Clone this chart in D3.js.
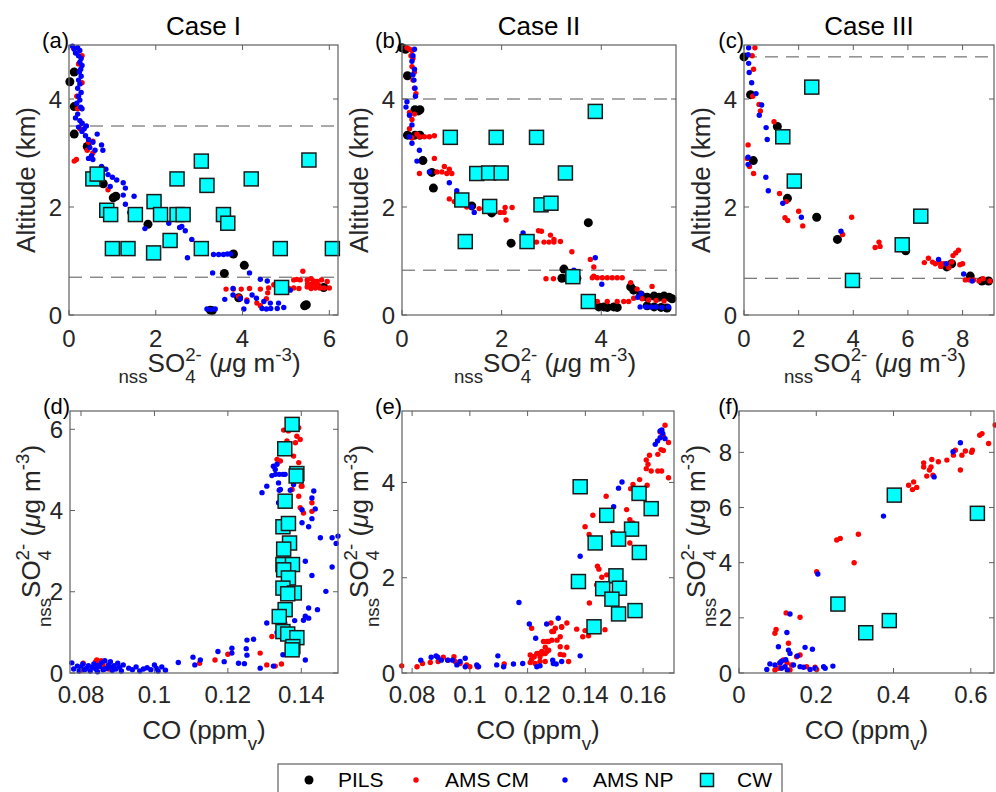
<!DOCTYPE html>
<html>
<head>
<meta charset="utf-8">
<script src="https://cdn.jsdelivr.net/npm/d3@7"></script>
<style>
  body { margin: 0; background: #fff; }
  svg { font-family: "Liberation Sans", Arial, Helvetica, sans-serif; }
</style>
</head>
<body>
<div id="chart"></div>
<script>
// ---- data ----
var pilsA = [[0.12,4.5],[0.02,4.32],[0.12,3.86],[0.12,3.35],[0.42,3.12],[0.79,2.43],[1.02,2.17],[1.08,2.2],[1.82,1.68],[3.79,1.13],[4.04,0.92],[3.58,0.77],[3.91,0.32],[3.26,0.09],[3.3,0.08],[5.43,0.17],[5.47,0.19],[5.87,0.51]];
var cmA = [[0.1,4.95],[0.3,4.8],[0.22,4.65],[0.3,4.3],[0.18,4.05],[0.2,3.82],[0.3,3.55],[0.25,3.45],[0.45,3.2],[0.55,3.22],[0.42,3.05],[0.55,3.0],[0.12,2.85],[0.17,2.88],[0.9,2.32],
  [5.39,0.81],[5.18,0.65],[5.25,0.66],[5.33,0.65],[5.49,0.65],[5.58,0.67],[5.64,0.63],[5.72,0.62],[5.82,0.65],[5.95,0.62],[5.07,0.49],[5.18,0.5],[5.3,0.49],[5.49,0.52],[5.58,0.49],[5.68,0.5],[5.78,0.5],[5.88,0.5],[6.0,0.5],[5.5,0.58],[5.6,0.57],[5.7,0.58],[5.75,0.55],
  [3.62,0.48],[3.79,0.48],[3.97,0.48],[4.16,0.49],[4.41,0.48],[4.6,0.5],[4.58,0.41],[3.91,0.34],[4.1,0.28],[4.33,0.22],[4.41,0.17],[4.72,0.56],[4.95,0.48],[4.55,0.3]];
var npA = [[0.08,4.98],[0.12,4.92],[0.2,4.95],[0.25,4.9],[0.15,4.85],[0.22,4.8],[0.28,4.75],[0.25,4.68],[0.3,4.62],[0.27,4.55],[0.24,4.5],[0.28,4.42],[0.22,4.35],[0.25,4.28],[0.2,4.2],[0.28,4.12],[0.22,4.05],[0.25,3.98],[0.18,3.92],[0.27,3.85],[0.3,3.82],[0.2,3.72],[0.15,3.65],[0.25,3.6],[0.3,3.55],[0.22,3.48],[0.35,3.45],[0.4,3.5],[0.3,3.4],[0.38,3.32],[0.45,3.25],[0.65,3.35],[0.55,3.2],[0.48,3.1],[0.6,3.05],[0.75,3.15],[0.78,3.05],[0.52,2.95],[0.45,2.9],[0.55,2.88],[0.75,2.75],[0.85,2.7],[0.9,2.6],[1.0,2.55],[1.1,2.5],[0.95,2.38],[1.25,2.45],[1.3,2.35],[1.25,2.22],[1.5,2.2],[1.3,2.05],[1.4,1.9],[1.55,1.8],[1.75,1.6],[2.0,1.85],[2.3,1.7],[2.55,1.62],[2.6,1.64],[2.68,1.56],[2.83,1.4],[2.73,1.06],[2.95,1.3],[3.1,1.2],[3.33,1.12],[3.45,1.12],[3.56,1.12],[3.65,1.13],[3.72,1.13],[3.31,0.78],[4.16,0.78],[4.41,0.66],[4.57,0.63],[4.9,0.45],[5.1,0.46],
  [3.78,0.49],[3.59,0.29],[3.78,0.37],[4.22,0.37],[4.32,0.31],[4.49,0.25],[4.64,0.22],[4.83,0.22],[4.95,0.14],[4.03,0.11],[3.18,0.11],[3.27,0.1],[3.37,0.11],[4.45,0.12],[4.55,0.11],[4.65,0.12],[4.8,0.12],[3.95,0.3],[4.1,0.25]];
var cwA = [[0.55,2.52],[0.65,2.61],[0.87,1.94],[0.96,1.86],[1.0,1.23],[1.36,1.23],[1.53,1.86],[1.96,2.1],[2.11,1.86],[1.95,1.15],[2.33,1.38],[2.49,2.52],[2.49,1.86],[2.63,1.86],[3.05,2.85],[3.18,2.4],[3.05,1.23],[3.56,1.86],[3.66,1.7],[4.2,2.52],[4.87,1.23],[4.9,0.51],[5.53,2.87],[6.07,1.23]];
var dashA = [3.5, 0.7];

var pilsB = [[0.0,4.95],[0.07,4.92],[0.11,4.43],[0.26,3.8],[0.33,3.78],[0.36,3.8],[0.11,3.33],[0.26,3.33],[0.36,3.33],[0.42,2.86],[0.6,2.64],[0.63,2.35],[1.4,2.02],[1.8,1.89],[2.19,1.33],[3.74,1.71],[3.25,0.85],[3.21,0.68],[3.31,0.68],[3.51,0.68],
  [3.95,0.15],[4.05,0.15],[4.12,0.14],[4.25,0.15],[4.32,0.14],[4.59,0.52],[4.65,0.46],[4.79,0.37],[4.92,0.33],[5.06,0.35],[5.16,0.33],[5.26,0.35],[5.36,0.33],[4.92,0.17],[5.06,0.15],[5.2,0.14],[5.32,0.13],[5.42,0.3]];
var cmB = [[0.1,4.95],[0.15,4.92],[0.2,4.9],[0.18,4.8],[0.22,4.75],[0.2,4.6],[0.25,4.5],[0.22,4.35],[0.25,4.2],[0.28,4.1],[0.15,3.75],[0.25,3.72],[0.2,3.62],[0.15,3.45],[0.3,3.35],[0.35,3.3],[0.45,3.3],[0.55,3.3],[0.65,3.32],[0.2,3.28],[0.65,2.9],[0.35,2.62],[0.7,2.65],[0.8,2.65],[0.9,2.62],[0.95,2.7],[0.85,2.75],[1.0,2.62],[0.95,2.15],[1.05,2.1],[1.3,2.0],[1.55,1.97],[1.85,1.97],[1.97,1.9],[2.07,1.99],[2.21,1.99],[2.09,1.76],[2.05,1.9],
  [2.8,1.55],[2.74,1.56],[2.98,1.48],[3.05,1.4],[3.18,1.36],[2.6,1.4],[2.7,1.35],[2.85,1.35],[2.95,1.35],[3.05,1.35],[3.41,1.17],[3.78,1.03],[3.85,0.89],[3.82,0.69],[3.92,0.69],[4.02,0.69],[4.12,0.69],[4.22,0.69],[4.32,0.69],[4.42,0.69],[2.89,0.67],[3.04,0.67],[3.85,0.72],[4.59,0.6],[4.72,0.48],[5.02,0.53],[4.82,0.3],[4.95,0.28],[5.1,0.27],[5.26,0.26],[3.92,0.25],[4.12,0.25],[4.32,0.25],[4.45,0.25],[4.55,0.25],[4.65,0.31]];
var npB = [[0.25,4.92],[0.22,4.8],[0.2,4.7],[0.25,4.55],[0.22,4.45],[0.24,4.35],[0.26,4.2],[0.27,4.05],[0.1,3.95],[0.08,3.85],[0.15,3.7],[0.2,3.52],[0.15,3.3],[0.2,3.18],[0.35,3.05],[0.3,2.85],[0.55,2.65],[0.95,2.45],[1.1,2.3],[1.45,1.9],[1.4,2.0],[2.43,1.52],[3.88,1.06],[4.01,0.57],[3.45,0.83],[4.73,0.33],[4.8,0.4],[4.78,0.15],[4.9,0.15],[5.0,0.15],[5.1,0.15],[5.22,0.14],[5.35,0.15]];
var cwB = [[3.88,3.77],[0.97,3.29],[1.89,3.29],[2.7,3.29],[1.5,2.62],[1.74,2.63],[1.99,2.63],[3.28,2.63],[1.2,2.13],[1.76,2.01],[2.79,2.04],[2.99,2.07],[1.27,1.36],[2.51,1.36],[3.43,0.71],[3.74,0.25]];
var dashB = [4.0, 0.83];

var pilsC = [[0.0,4.78],[0.24,4.08],[1.22,3.49],[0.34,2.86],[1.59,2.16],[2.66,1.81],[3.42,1.4],[5.92,1.19],[7.42,0.89],[7.6,0.95],[8.28,0.72],[8.71,0.63],[8.95,0.63]];
var cmC = [[0.4,4.95],[0.3,4.8],[0.35,4.55],[0.32,4.05],[0.55,3.9],[0.6,3.78],[1.1,3.58],[0.15,3.15],[0.12,2.9],[0.2,2.75],[0.35,2.62],[1.3,2.25],[1.55,2.1],[2.0,1.92],[1.5,1.8],[1.6,1.75],[2.15,1.65],[3.94,1.81],[3.61,1.49],[4.8,1.25],[4.94,1.35],[4.98,1.27],
  [6.6,0.97],[6.75,1.05],[6.9,0.98],[7.0,0.95],[7.15,0.97],[7.3,0.95],[7.45,0.93],[7.6,0.98],[7.75,1.15],[7.85,1.2],[7.65,1.1],[7.5,0.88],[8.0,0.95],[7.9,0.93],[8.1,0.65],[8.25,0.65],[8.4,0.65],[8.6,0.63],[8.75,0.67],[9.0,0.63],[7.2,0.9]];
var npC = [[0.17,4.95],[0.15,4.82],[0.17,4.66],[0.19,4.49],[0.28,4.3],[0.44,4.1],[0.65,3.89],[0.56,3.7],[0.81,3.47],[0.85,3.25],[0.15,2.92],[0.15,2.79],[0.8,2.55],[0.89,2.3],[1.42,2.07],[2.1,1.81],[3.55,1.55],[7.12,1.03],[8.04,0.76],[8.35,0.63],[7.4,0.95]];
var cwC = [[2.48,4.22],[1.42,3.3],[1.84,2.48],[6.47,1.83],[5.79,1.3],[3.97,0.64]];
var dashC = [4.78, 0.68];

var pilsD = [];
var cmD = [[0.1352,5.98],[0.1365,5.96],[0.1393,6.04],[0.1388,5.83],[0.1361,5.71],[0.1384,5.67],[0.1397,5.75],[0.1334,5.26],[0.1343,5.22],[0.1379,5.34],[0.1393,5.18],[0.1375,4.97],[0.1375,4.52],[0.1393,4.77],[0.1402,4.6],[0.1393,4.35],[0.1397,4.07],[0.1406,3.94],[0.1429,3.98],[0.1429,4.19],[0.14,4.6],
  [0.132,0.9],[0.1288,0.49],[0.1306,0.2],[0.1329,0.17],[0.1346,0.22],[0.12,0.46],[0.1165,0.32],[0.1123,0.24],[0.0843,0.32],[0.0806,0.24],[0.0802,0.07],[0.0847,0.2],[0.0855,0.3],[0.086,0.2],[0.0875,0.1],[0.084,0.28]];
var npD = [[0.0775,0.25],[0.078,0.1],[0.079,0.17],[0.0795,0.05],[0.08,0.15],[0.0805,0.22],[0.081,0.08],[0.0815,0.12],[0.082,0.18],[0.0825,0.05],[0.083,0.14],[0.0835,0.22],[0.084,0.1],[0.0845,0.03],[0.085,0.16],[0.0855,0.25],[0.086,0.08],[0.0865,0.3],[0.087,0.12],[0.0875,0.2],[0.088,0.28],[0.0885,0.06],[0.089,0.18],[0.0895,0.1],[0.09,0.24],[0.0905,0.14],[0.091,0.05],[0.0915,0.2],[0.093,0.12],[0.094,0.08],[0.095,0.15],[0.096,0.05],[0.097,0.1],[0.098,0.13],[0.099,0.08],[0.1,0.2],[0.1005,0.12],[0.101,0.05],[0.102,0.15],[0.103,0.07],[0.0845,0.18],[0.0865,0.1],[0.088,0.15],
  [0.1065,0.26],[0.1105,0.39],[0.111,0.2],[0.1125,0.32],[0.1173,0.53],[0.119,0.28],[0.1211,0.61],[0.1211,0.49],[0.1229,0.24],[0.1252,0.81],[0.127,0.83],[0.125,0.6],[0.1252,0.44],[0.1245,0.23],[0.1288,0.12],[0.1306,1.23],[0.1293,4.44],[0.1306,4.6],[0.132,4.86],[0.1329,5.01],[0.1324,5.09],[0.1338,4.68],[0.134,4.5],[0.1338,4.19],[0.1356,4.89],[0.137,4.5],[0.1379,4.64],[0.1334,5.14],[0.133,4.89],[0.134,4.89],[0.135,4.89],[0.1343,4.52],
  [0.1434,4.48],[0.1429,4.31],[0.1438,4.04],[0.1402,4.02],[0.1429,3.8],[0.1402,3.7],[0.142,3.6],[0.1452,3.33],[0.1484,3.33],[0.1495,3.19],[0.15,3.37],[0.1411,2.75],[0.1484,2.61],[0.1429,2.4],[0.1467,2.01],[0.142,1.6],[0.1444,1.56],[0.1411,1.4],[0.142,1.35],[0.1406,1.3],[0.1382,1.29],[0.1355,1.23],[0.1334,1.0],[0.1347,0.9],[0.1411,0.32],[0.1324,0.17],[0.135,0.45]];
var cwD = [[0.1375,6.12],[0.1355,5.52],[0.1388,4.91],[0.1386,4.85],[0.1356,4.23],[0.135,3.6],[0.1365,3.68],[0.1368,3.2],[0.1352,3.05],[0.135,2.67],[0.1376,2.67],[0.1352,2.54],[0.1365,2.34],[0.135,2.09],[0.1381,1.97],[0.1363,1.95],[0.1356,1.56],[0.134,1.39],[0.135,1.02],[0.1363,0.96],[0.1388,0.87],[0.1377,0.65],[0.1375,0.57]];

var pilsE = [];
var cmE = [[0.1676,5.2],[0.1659,5.06],[0.167,4.97],[0.1688,4.84],[0.1662,4.69],[0.167,4.67],[0.1651,4.59],[0.1622,4.57],[0.1611,4.47],[0.1617,4.38],[0.1611,4.29],[0.1628,4.24],[0.1651,4.24],[0.1664,4.24],[0.1688,4.1],[0.1614,3.94],[0.1588,4.06],[0.1565,3.96],[0.1557,3.87],[0.1472,3.71],[0.1543,3.43],[0.1554,3.22],[0.1565,3.15],[0.156,3.05],[0.1426,3.31],[0.1399,3.07],[0.1413,2.91],[0.1495,2.95],[0.1532,2.84],[0.1554,2.73],[0.1442,2.24],[0.1447,2.18],[0.1457,2.01],[0.1474,2.06],[0.1439,1.85],[0.1414,1.47],
  [0.137,0.92],[0.1399,0.89],[0.1411,0.78],[0.1391,0.76],[0.1468,0.91],[0.1336,1.05],[0.1318,0.96],[0.129,0.87],[0.1284,0.69],[0.1302,0.69],[0.1273,0.48],[0.1261,0.41],[0.1249,0.45],[0.1238,0.41],[0.122,0.34],[0.1214,0.29],[0.1243,0.24],[0.1313,0.55],[0.1336,0.54],[0.1313,0.39],[0.1325,0.38],[0.1342,0.24],[0.1267,0.66],
  [0.0764,0.15],[0.0817,0.13],[0.0836,0.2],[0.0863,0.22],[0.0908,0.33],[0.0925,0.27],[0.0945,0.34],[0.0949,0.24],[0.0966,0.2],[0.0989,0.17],[0.1,0.13],[0.1026,0.13],[0.089,0.24],[0.1119,0.19],[0.1214,0.94],[0.1209,0.38],[0.1223,0.34],[0.1232,0.41],[0.1243,0.34],[0.1255,0.41],[0.1267,0.45],[0.1261,0.54],[0.1273,0.66],[0.1255,0.66],[0.1284,0.87],[0.1281,1.05],[0.1296,0.94],[0.1313,0.76],[0.1318,0.97],[0.1209,0.22],[0.1226,0.2],[0.1261,0.24]];
var npE = [[0.083,0.27],[0.0866,0.33],[0.0883,0.36],[0.0889,0.33],[0.0901,0.27],[0.0923,0.27],[0.094,0.27],[0.0955,0.17],[0.0966,0.24],[0.0984,0.31],[0.0984,0.13],[0.1024,0.17],[0.103,0.13],[0.1093,0.17],[0.1097,0.36],[0.1117,0.13],[0.1151,0.19],[0.1183,0.2],[0.117,1.48],[0.1206,1.03],[0.1228,0.73],[0.1266,1.03],[0.1306,1.15],[0.1287,0.27],[0.1289,0.2],[0.1299,0.19],[0.1318,0.24],[0.1232,0.13],[0.1243,0.15],[0.1382,0.36],[0.1382,2.45],
  [0.1498,3.49],[0.1515,3.88],[0.1527,4.01],[0.1642,4.8],[0.165,4.87],[0.1659,4.94],[0.1668,5.03],[0.1665,5.1],[0.1676,4.92],[0.1659,5.08]];
var cwE = [[0.1382,3.91],[0.1586,3.77],[0.1628,3.45],[0.1474,3.31],[0.156,3.02],[0.1515,2.81],[0.1434,2.73],[0.1587,2.53],[0.1376,1.92],[0.1506,2.04],[0.146,1.77],[0.1518,1.78],[0.1492,1.55],[0.1515,1.24],[0.1572,1.31],[0.143,0.97]];

var pilsF = [];
var cmF = [[0.663,8.99],[0.629,8.68],[0.623,8.62],[0.646,8.32],[0.604,8.08],[0.602,8.0],[0.586,8.05],[0.577,7.9],[0.573,7.36],[0.555,7.9],[0.56,8.08],[0.538,7.72],[0.516,7.66],[0.499,7.74],[0.497,7.47],[0.493,7.36],[0.486,7.14],[0.502,7.17],[0.478,7.62],[0.478,7.47],[0.439,6.81],[0.449,6.65],[0.46,6.73],[0.452,6.93],
  [0.309,5.03],[0.262,4.88],[0.253,4.82],[0.298,4.0],[0.201,3.67],[0.158,2.02],[0.122,2.18],[0.096,1.58],[0.093,1.44],[0.128,1.08],[0.158,0.65],[0.149,0.59],[0.115,0.47],[0.124,0.37],[0.106,0.35],[0.102,0.17],[0.093,0.11],[0.136,0.29],[0.175,0.23],[0.197,0.21],[0.201,0.13],[0.132,0.11]];
var npF = [[0.573,8.35],[0.554,8.02],[0.505,7.11],[0.374,5.69],[0.204,3.59],[0.132,2.14],[0.124,1.47],[0.102,0.95],[0.128,0.83],[0.132,0.71],[0.171,0.93],[0.19,0.86],[0.151,0.62],[0.072,0.13],[0.08,0.33],[0.093,0.29],[0.106,0.37],[0.11,0.17],[0.119,0.23],[0.125,0.11],[0.11,0.43],[0.141,0.29],[0.158,0.23],[0.167,0.21],[0.184,0.13],[0.197,0.17],[0.219,0.23],[0.223,0.17],[0.243,0.25],[0.121,0.48]];
var cwF = [[0.402,6.45],[0.617,5.79],[0.256,2.5],[0.389,1.9],[0.328,1.46]];

var caseTitles = ["Case I", "Case II", "Case III"];
var panelLetters = ["(a)", "(b)", "(c)", "(d)", "(e)", "(f)"];
var legendNames = ["PILS", "AMS CM", "AMS NP", "CW"];

// ---- layout ----
var W = 996, H = 792;
var svg = d3.select("#chart").append("svg").attr("width", W).attr("height", H);

var panels = [
  {L:69,  R:338, T:45,  B:315, xd:[0,6.2],  yd:[0,5],  xt:[0,2,4,6],   yt:[0,2,4], pils:pilsA, cm:cmA, np:npA, cw:cwA, dash:dashA, row:0, ylOff:34},
  {L:402, R:676, T:45,  B:315, xd:[0,5.5],  yd:[0,5],  xt:[0,2,4],     yt:[0,2,4], pils:pilsB, cm:cmB, np:npB, cw:cwB, dash:dashB, row:0, ylOff:34},
  {L:744, R:994, T:45,  B:315, xd:[0,9.15], yd:[0,5],  xt:[0,2,4,6,8], yt:[0,2,4], pils:pilsC, cm:cmC, np:npC, cw:cwC, dash:dashC, row:0, ylOff:34},
  {L:70,  R:338, T:411, B:673, xd:[0.077,0.150],  yd:[0,6.45], xt:[0.08,0.1,0.12,0.14], yt:[0,2,4,6], pils:pilsD, cm:cmD, np:npD, cw:cwD, dash:[], row:1, ylOff:30},
  {L:402, R:674, T:411, B:673, xd:[0.0765,0.1707], yd:[0,5.5], xt:[0.08,0.1,0.12,0.14,0.16], yt:[0,2,4], pils:pilsE, cm:cmE, np:npE, cw:cwE, dash:[], row:1, ylOff:34},
  {L:739, R:994, T:411, B:673, xd:[0,0.66], yd:[0,9.5], xt:[0,0.2,0.4,0.6], yt:[0,2,4,6,8], pils:pilsF, cm:cmF, np:npF, cw:cwF, dash:[], row:1, ylOff:34}
];

var axisCol = "#5f5f5f", textCol = "#262626";
var tickFmt = function(v){ return String(+v.toFixed(3)); };
var sq = 14;

// lay out a label built from pieces (sub/superscripts), centred on 0 (+ shift)
function richLabel(g, pieces, fs, shift) {
  var x = 0, stackStart = null, stackW = 0;
  var inner = g.append("g");
  pieces.forEach(function(p) {
    var t = inner.append("text")
      .attr("x", x).attr("y", (p.dy || 0) * fs)
      .attr("font-size", (p.s || 1) * fs)
      .attr("fill", textCol)
      .style("font-style", p.it ? "italic" : null)
      .style("white-space", "pre")
      .text(p.t);
    var w = t.node().getComputedTextLength();
    if (p.stack) { stackStart = x; stackW = w; }
    else if (stackStart !== null) {
      t.attr("x", stackStart);
      x = stackStart + Math.max(w, stackW);
      stackStart = null;
    } else x += w;
  });
  inner.attr("transform", "translate(" + (-x / 2 + (shift || 0)) + ",0)");
}

var so4Pieces = [
  {t:"nss", s:0.72, dy:0.42}, {t:"SO"}, {t:"2-", s:0.72, dy:-0.42, stack:true}, {t:"4", s:0.72, dy:0.42},
  {t:" ("}, {t:"\u03bc", it:true}, {t:"g m"}, {t:"-3", s:0.72, dy:-0.42}, {t:")"}
];
var altPieces = [{t:"Altitude (km)"}];
var coPieces = [{t:"CO (ppm"}, {t:"v", s:0.72, dy:0.42}, {t:")"}];

panels.forEach(function(p, i) {
  var x = d3.scaleLinear().domain(p.xd).range([p.L, p.R]);
  var y = d3.scaleLinear().domain(p.yd).range([p.B, p.T]);
  var g = svg.append("g");

  var cid = "clip" + i;
  svg.append("clipPath").attr("id", cid).append("rect")
    .attr("x", p.L - 8).attr("y", p.T - 8).attr("width", p.R - p.L + 16).attr("height", p.B - p.T + 16);
  var marks = g.append("g").attr("clip-path", "url(#" + cid + ")");

  // dashed reference lines
  marks.selectAll(".dash").data(p.dash).enter().append("line")
    .attr("x1", p.L).attr("x2", p.R)
    .attr("y1", function(d){ return y(d); }).attr("y2", function(d){ return y(d); })
    .attr("stroke", "#555").attr("stroke-width", 1).attr("stroke-dasharray", "13,8");

  marks.selectAll(".pils").data(p.pils).enter().append("circle")
    .attr("cx", function(d){ return x(d[0]); }).attr("cy", function(d){ return y(d[1]); })
    .attr("r", 4.5).attr("fill", "#000");
  marks.selectAll(".cm").data(p.cm).enter().append("circle")
    .attr("cx", function(d){ return x(d[0]); }).attr("cy", function(d){ return y(d[1]); })
    .attr("r", 2.7).attr("fill", "#ff0000");
  marks.selectAll(".np").data(p.np).enter().append("circle")
    .attr("cx", function(d){ return x(d[0]); }).attr("cy", function(d){ return y(d[1]); })
    .attr("r", 2.7).attr("fill", "#0000ff");
  marks.selectAll(".cw").data(p.cw).enter().append("rect")
    .attr("x", function(d){ return x(d[0]) - sq / 2; }).attr("y", function(d){ return y(d[1]) - sq / 2; })
    .attr("width", sq).attr("height", sq)
    .attr("fill", "#00ffff").attr("stroke", "#1a1a1a").attr("stroke-width", 1.5);

  // box
  g.append("rect").attr("x", p.L).attr("y", p.T).attr("width", p.R - p.L).attr("height", p.B - p.T)
    .attr("fill", "none").attr("stroke", axisCol).attr("stroke-width", 1.2);

  // ticks (inward, mirrored)
  var tl = 5;
  p.xt.forEach(function(v) {
    var xx = x(v);
    g.append("line").attr("x1", xx).attr("x2", xx).attr("y1", p.B).attr("y2", p.B - tl).attr("stroke", axisCol);
    g.append("line").attr("x1", xx).attr("x2", xx).attr("y1", p.T).attr("y2", p.T + tl).attr("stroke", axisCol);
    g.append("text").attr("x", xx).attr("y", p.B + (p.row === 0 ? 32 : 30))
      .attr("text-anchor", "middle").attr("font-size", 24).attr("fill", textCol).text(tickFmt(v));
  });
  p.yt.forEach(function(v) {
    var yy = y(v);
    g.append("line").attr("x1", p.L).attr("x2", p.L + tl).attr("y1", yy).attr("y2", yy).attr("stroke", axisCol);
    g.append("line").attr("x1", p.R).attr("x2", p.R - tl).attr("y1", yy).attr("y2", yy).attr("stroke", axisCol);
    g.append("text").attr("x", p.L - 7).attr("y", yy + 8.5)
      .attr("text-anchor", "end").attr("font-size", 24).attr("fill", textCol).text(tickFmt(v));
  });

  // panel letter
  g.append("text").attr("x", p.L).attr("y", p.T + 3).attr("text-anchor", "end")
    .attr("font-size", 22).attr("fill", "#000").text(panelLetters[i]);

  var cx = (p.L + p.R) / 2, cy = (p.T + p.B) / 2;
  if (p.row === 0) {
    g.append("text").attr("x", cx).attr("y", 35).attr("text-anchor", "middle")
      .attr("font-size", 26).attr("fill", "#000").text(caseTitles[i]);
    richLabel(g.append("g").attr("transform", "translate(" + cx + "," + (p.B + 57) + ")"), so4Pieces, 26, 6);
    richLabel(g.append("g").attr("transform", "translate(" + (p.L - p.ylOff) + "," + cy + ") rotate(-90)"), altPieces, 26, 0);
  } else {
    richLabel(g.append("g").attr("transform", "translate(" + cx + "," + (p.B + 66) + ")"), coPieces, 26, 0);
    richLabel(g.append("g").attr("transform", "translate(" + (p.L - p.ylOff) + "," + cy + ") rotate(-90)"), so4Pieces, 26, 6);
  }
});

// legend
var lg = svg.append("g");
lg.append("rect").attr("x", 278).attr("y", 764).attr("width", 504).attr("height", 40)
  .attr("fill", "#fff").attr("stroke", axisCol).attr("stroke-width", 1.2);
var legX = [309, 416, 565, 707];
var legTextX = [338, 445, 593, 737];
var ly = 780;
lg.append("circle").attr("cx", legX[0]).attr("cy", ly).attr("r", 4.5).attr("fill", "#000");
lg.append("circle").attr("cx", legX[1]).attr("cy", ly).attr("r", 2.7).attr("fill", "#ff0000");
lg.append("circle").attr("cx", legX[2]).attr("cy", ly).attr("r", 2.7).attr("fill", "#0000ff");
lg.append("rect").attr("x", legX[3] - 6.5).attr("y", ly - 6.5).attr("width", 13).attr("height", 13)
  .attr("fill", "#00ffff").attr("stroke", "#1a1a1a").attr("stroke-width", 1.5);
lg.selectAll(".lt").data(legendNames).enter().append("text")
  .attr("x", function(d, i){ return legTextX[i]; }).attr("y", 787)
  .attr("font-size", 21).attr("fill", "#000").text(function(d){ return d; });
</script>
</body>
</html>
